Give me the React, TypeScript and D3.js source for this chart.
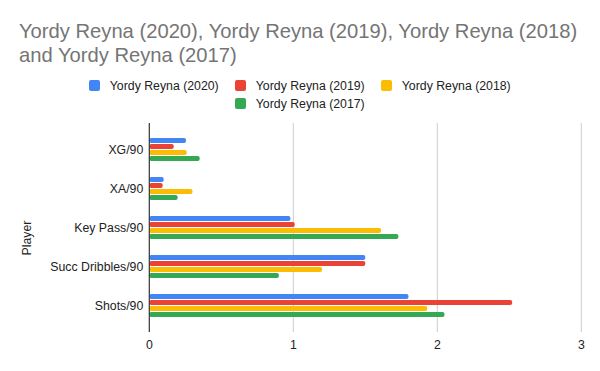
import React, { useEffect, useRef } from 'react';
import * as d3 from 'd3';

const categories = ['XG/90', 'XA/90', 'Key Pass/90', 'Succ Dribbles/90', 'Shots/90'];
const seriesNames = ['Yordy Reyna (2020)', 'Yordy Reyna (2019)', 'Yordy Reyna (2018)', 'Yordy Reyna (2017)'];
const colors = ['#4285f4', '#ea4335', '#fbbc04', '#34a853'];
const reyna2020 = [0.255, 0.1, 0.98, 1.5, 1.8];
const reyna2019 = [0.17, 0.093, 1.01, 1.5, 2.52];
const reyna2018 = [0.26, 0.3, 1.61, 1.2, 1.93];
const reyna2017 = [0.35, 0.197, 1.73, 0.9, 2.05];
const xTicks = [0, 1, 2, 3];

const FONT = 'Arial, "Liberation Sans", sans-serif';
const LABEL_SIZE = '12.3px';

function drawChart(container: SVGSVGElement) {
  const svg = d3.select(container);
  svg.selectAll('*').remove();

  const values = [reyna2020, reyna2019, reyna2018, reyna2017];

  // scales
  const x = d3.scaleLinear().domain([0, 3]).range([149.3, 581.3]);
  const y = d3.scaleBand<string>()
    .domain(categories)
    .range([123, 332])
    .paddingInner(0.41)
    .paddingOuter(0.385);
  const ySub = d3.scaleBand<string>()
    .domain(seriesNames)
    .range([0, y.bandwidth()])
    .paddingInner(0.18);

  svg.append('rect').attr('width', 600).attr('height', 371).attr('fill', '#fff');

  // title
  const title = svg.append('text')
    .style('font-family', FONT)
    .style('font-size', '20.2px')
    .attr('fill', '#757575');
  title.append('tspan').attr('x', 19).attr('y', 37.5)
    .text('Yordy Reyna (2020), Yordy Reyna (2019), Yordy Reyna (2018)');
  title.append('tspan').attr('x', 19).attr('y', 61.5)
    .text('and Yordy Reyna (2017)');

  // legend
  const legendPos = [
    { x: 89, y: 85.5 },
    { x: 235, y: 85.5 },
    { x: 381, y: 85.5 },
    { x: 235, y: 103.5 },
  ];
  const legend = svg.append('g').selectAll('g')
    .data(seriesNames)
    .enter()
    .append('g')
    .attr('transform', (d, i) => `translate(${legendPos[i].x},${legendPos[i].y})`);
  legend.append('rect')
    .attr('x', 0).attr('y', -5.5).attr('width', 11).attr('height', 11)
    .attr('rx', 2)
    .attr('fill', (d, i) => colors[i]);
  legend.append('text')
    .attr('x', 20.8).attr('y', 4.5)
    .style('font-family', FONT)
    .style('font-size', LABEL_SIZE)
    .attr('fill', '#222')
    .text(d => d);

  // grid
  const [y0, y1] = y.range();
  svg.append('g').selectAll('line')
    .data(xTicks.filter(t => t !== 0))
    .enter()
    .append('line')
    .attr('x1', d => x(d)).attr('x2', d => x(d))
    .attr('y1', y0).attr('y2', y1)
    .attr('stroke', '#cccccc')
    .attr('stroke-width', 1);

  // bars
  categories.forEach((cat, ci) => {
    const g = svg.append('g').attr('transform', `translate(0,${y(cat)})`);
    g.selectAll('rect')
      .data(seriesNames.map((s, si) => ({ s, si, v: values[si][ci] })))
      .enter()
      .append('rect')
      .attr('x', x(0))
      .attr('y', d => ySub(d.s) as number)
      .attr('width', d => x(d.v) - x(0))
      .attr('height', ySub.bandwidth())
      .attr('rx', 2)
      .attr('fill', d => colors[d.si]);
  });

  // left axis line
  svg.append('line')
    .attr('x1', x(0)).attr('x2', x(0))
    .attr('y1', y0).attr('y2', y1)
    .attr('stroke', '#333')
    .attr('stroke-width', 1.2);

  // category labels
  svg.append('g').selectAll('text')
    .data(categories)
    .enter()
    .append('text')
    .attr('x', 143.3)
    .attr('y', d => (y(d) as number) + y.bandwidth() / 2 + 4.5)
    .attr('text-anchor', 'end')
    .style('font-family', FONT)
    .style('font-size', LABEL_SIZE)
    .attr('fill', '#222')
    .text(d => d);

  // x tick labels
  svg.append('g').selectAll('text')
    .data(xTicks)
    .enter()
    .append('text')
    .attr('x', d => x(d))
    .attr('y', 348.5)
    .attr('text-anchor', 'middle')
    .style('font-family', FONT)
    .style('font-size', LABEL_SIZE)
    .attr('fill', '#222')
    .text(d => d3.format('d')(d));

  // y axis title
  svg.append('text')
    .attr('transform', 'translate(30.5,238) rotate(-90)')
    .attr('text-anchor', 'middle')
    .style('font-family', FONT)
    .style('font-size', LABEL_SIZE)
    .attr('fill', '#222')
    .text('Player');
}

const App = () => {
  const ref = useRef<SVGSVGElement>(null);

  useEffect(() => {
    if (ref.current) drawChart(ref.current);
  }, []);

  return (
    <svg
      ref={ref}
      width={600}
      height={371}
      style={{ position: 'absolute', left: 0, top: 0, display: 'block' }}
    />
  );
};

export default App;
